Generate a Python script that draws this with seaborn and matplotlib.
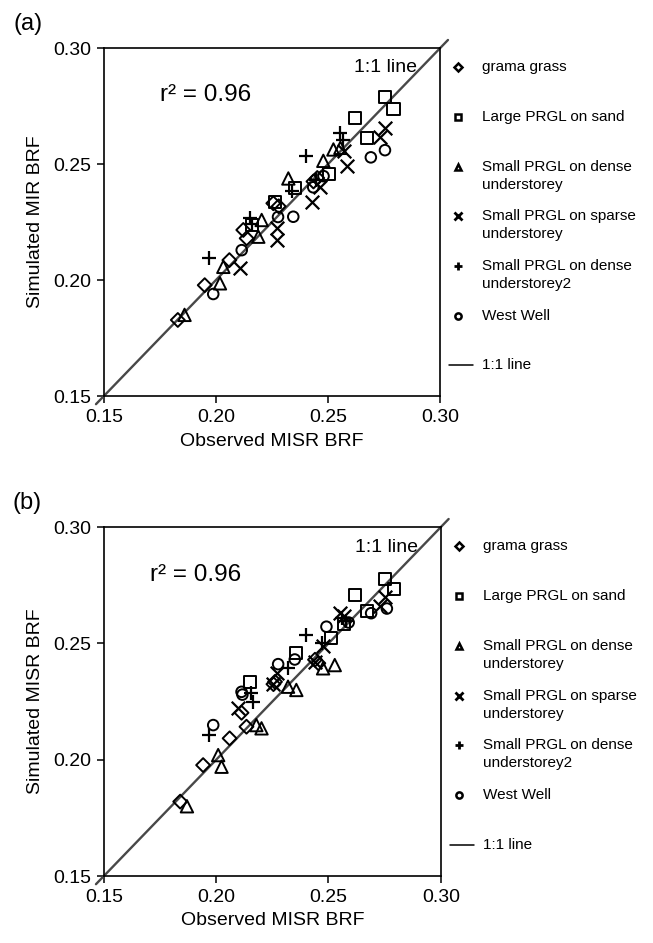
import matplotlib
matplotlib.use("Agg")
import matplotlib.pyplot as plt
import seaborn as sns
import pandas as pd
from matplotlib.lines import Line2D

sns.set_theme(style="white")
plt.rcParams["font.family"] = ["Liberation Sans", "DejaVu Sans"]
plt.rcParams["text.color"] = "black"
plt.rcParams["axes.labelcolor"] = "black"
plt.rcParams["xtick.color"] = "black"
plt.rcParams["ytick.color"] = "black"

# ---- series metadata ----
series_names = [
    "grama grass",
    "Large PRGL on sand",
    "Small PRGL on dense\nunderstorey",
    "Small PRGL on sparse\nunderstorey",
    "Small PRGL on dense\nunderstorey2",
    "West Well",
]
series_markers = ["D", "s", "^", "x", "+", "o"]

# ---- panel (a): observed MISR BRF vs simulated MIR BRF ----
a_grama_x = [0.1830, 0.1950, 0.2060, 0.2122, 0.2137, 0.2256, 0.2280, 0.2435, 0.2452]
a_grama_y = [0.1828, 0.1978, 0.2086, 0.2216, 0.2180, 0.2331, 0.2318, 0.2425, 0.2440]
a_large_x = [0.2160, 0.2262, 0.2353, 0.2505, 0.2620, 0.2673, 0.2754, 0.2792]
a_large_y = [0.2237, 0.2338, 0.2397, 0.2458, 0.2700, 0.2611, 0.2788, 0.2736]
a_dense_x = [0.1860, 0.2018, 0.2033, 0.2189, 0.2204, 0.2323, 0.2479, 0.2524, 0.2555]
a_dense_y = [0.1850, 0.1986, 0.2057, 0.2187, 0.2259, 0.2438, 0.2514, 0.2563, 0.2570]
a_sparse_x = [0.2107, 0.2271, 0.2271, 0.2427, 0.2464, 0.2583, 0.2570, 0.2732, 0.2754]
a_sparse_y = [0.2050, 0.2223, 0.2172, 0.2338, 0.2402, 0.2491, 0.2555, 0.2615, 0.2654]
a_dense2_x = [0.1970, 0.2152, 0.2160, 0.2338, 0.2402, 0.2447, 0.2554, 0.2568]
a_dense2_y = [0.2094, 0.2266, 0.2240, 0.2385, 0.2534, 0.2432, 0.2635, 0.2603]
a_west_x = [0.1988, 0.2115, 0.2277, 0.2345, 0.2434, 0.2480, 0.2691, 0.2754]
a_west_y = [0.1940, 0.2129, 0.2272, 0.2273, 0.2400, 0.2448, 0.2529, 0.2560]

# ---- panel (b): observed MISR BRF vs simulated MISR BRF ----
b_grama_x = [0.1840, 0.1942, 0.2060, 0.2113, 0.2135, 0.2255, 0.2262, 0.2440, 0.2455]
b_grama_y = [0.1820, 0.1977, 0.2092, 0.2202, 0.2142, 0.2325, 0.2335, 0.2430, 0.2415]
b_large_x = [0.2150, 0.2355, 0.2513, 0.2570, 0.2620, 0.2670, 0.2750, 0.2790]
b_large_y = [0.2335, 0.2457, 0.2522, 0.2585, 0.2710, 0.2640, 0.2775, 0.2735]
b_dense_x = [0.1870, 0.2009, 0.2024, 0.2179, 0.2202, 0.2320, 0.2357, 0.2476, 0.2528]
b_dense_y = [0.1800, 0.2020, 0.1970, 0.2149, 0.2135, 0.2314, 0.2300, 0.2393, 0.2407]
b_sparse_x = [0.2098, 0.2269, 0.2255, 0.2440, 0.2475, 0.2550, 0.2570, 0.2730, 0.2750]
b_sparse_y = [0.2221, 0.2371, 0.2325, 0.2420, 0.2490, 0.2629, 0.2620, 0.2660, 0.2700]
b_dense2_x = [0.1969, 0.2157, 0.2165, 0.2320, 0.2402, 0.2470, 0.2560, 0.2580]
b_dense2_y = [0.2106, 0.2285, 0.2249, 0.2393, 0.2536, 0.2500, 0.2610, 0.2595]
b_west_x = [0.1987, 0.2113, 0.2117, 0.2276, 0.2350, 0.2491, 0.2590, 0.2690, 0.2760]
b_west_y = [0.2149, 0.2292, 0.2280, 0.2411, 0.2431, 0.2572, 0.2590, 0.2630, 0.2650]

# axis range, ticks and the span of the 1:1 reference line
axis_lim = [0.15, 0.30]
tick_vals = [0.15, 0.20, 0.25, 0.30]
tick_labels = ["0.15", "0.20", "0.25", "0.30"]
one_to_one = [0.1465, 0.3035]
r2_text = "r\u00b2 = 0.96"


def panel_frame(xs, ys):
    frames = []
    for name, x, y in zip(series_names, xs, ys):
        frames.append(pd.DataFrame({"obs": x, "sim": y, "series": name}))
    return pd.concat(frames, ignore_index=True)


df_a = panel_frame(
    [a_grama_x, a_large_x, a_dense_x, a_sparse_x, a_dense2_x, a_west_x],
    [a_grama_y, a_large_y, a_dense_y, a_sparse_y, a_dense2_y, a_west_y],
)
df_b = panel_frame(
    [b_grama_x, b_large_x, b_dense_x, b_sparse_x, b_dense2_x, b_west_x],
    [b_grama_y, b_large_y, b_dense_y, b_sparse_y, b_dense2_y, b_west_y],
)

fig = plt.figure(figsize=(6.53, 9.43), dpi=100)
ax_a = fig.add_axes([0.159, 0.580, 0.515, 0.369])
ax_b = fig.add_axes([0.159, 0.071, 0.516, 0.370])

line_color = "#484848"
marker_sizes = {"D": 50, "s": 75, "^": 80, "o": 58, "x": 95, "+": 100}


def draw_panel(ax, df, ylabel, tag):
    ax.set_xlim(axis_lim)
    ax.set_ylim(axis_lim)
    sns.lineplot(x=one_to_one, y=one_to_one, ax=ax, color=line_color,
                 linewidth=1.7, clip_on=False, zorder=1)
    for name, mk in zip(series_names, series_markers):
        sub = df[df["series"] == name]
        if mk in ("x", "+"):
            sns.scatterplot(data=sub, x="obs", y="sim", ax=ax, marker=mk,
                            color="black", s=marker_sizes[mk], linewidth=1.6,
                            zorder=3)
        else:
            sns.scatterplot(data=sub, x="obs", y="sim", ax=ax, marker=mk,
                            facecolor="none", edgecolor="black",
                            s=marker_sizes[mk], linewidth=1.4, zorder=3)
    ax.set_xticks(tick_vals)
    ax.set_xticklabels(tick_labels)
    ax.set_yticks(tick_vals)
    ax.set_yticklabels(tick_labels)
    ax.tick_params(axis="both", which="both", direction="out", length=5,
                   width=1.1, color="black", labelsize=14, pad=4,
                   bottom=True, left=True, top=False, right=False)
    for sp in ax.spines.values():
        sp.set_color("black")
        sp.set_linewidth(1.2)
    ax.set_xlabel("Observed MISR BRF", fontsize=14, labelpad=5)
    ax.set_ylabel(ylabel, fontsize=14, labelpad=7)
    ax.text(0.932, 0.943, "1:1 line", transform=ax.transAxes,
            ha="right", va="center", fontsize=14)
    ax.text(tag[1], tag[2], r2_text, transform=ax.transAxes,
            ha="left", va="center", fontsize=17.5)
    ax.text(-0.27, 1.07, tag[0], transform=ax.transAxes,
            ha="left", va="center", fontsize=17)

    # legend column to the right of the frame
    ax_h = ax.get_position().height * fig.get_figheight() * fig.dpi
    line_step = 18.0 / ax_h
    y0 = 0.945
    step = 0.1427
    for i, (name, mk) in enumerate(zip(series_names, series_markers)):
        yy = y0 - i * step
        if mk in ("x", "+"):
            h = Line2D([1.054], [yy], marker=mk, color="black", markersize=6,
                       markeredgewidth=2.0, linestyle="none",
                       transform=ax.transAxes, clip_on=False)
        else:
            h = Line2D([1.054], [yy], marker=mk, markerfacecolor="none",
                       markeredgecolor="black", markersize=4.5 if mk != "D" else 4.2,
                       markeredgewidth=1.8, linestyle="none",
                       transform=ax.transAxes, clip_on=False)
        ax.add_line(h)
        for j, part in enumerate(name.split("\n")):
            ax.text(1.125, yy - j * line_step, part, transform=ax.transAxes,
                    ha="left", va="center", fontsize=11)
    yy = y0 - 6 * step
    ax.add_line(Line2D([1.027, 1.098], [yy, yy], color="black", linewidth=1.1,
                       transform=ax.transAxes, clip_on=False))
    ax.text(1.125, yy, "1:1 line", transform=ax.transAxes,
            ha="left", va="center", fontsize=11)


draw_panel(ax_a, df_a, "Simulated MIR BRF", ("(a)", 0.167, 0.865))
draw_panel(ax_b, df_b, "Simulated MISR BRF", ("(b)", 0.137, 0.862))

fig.savefig("out.png", dpi=100)
